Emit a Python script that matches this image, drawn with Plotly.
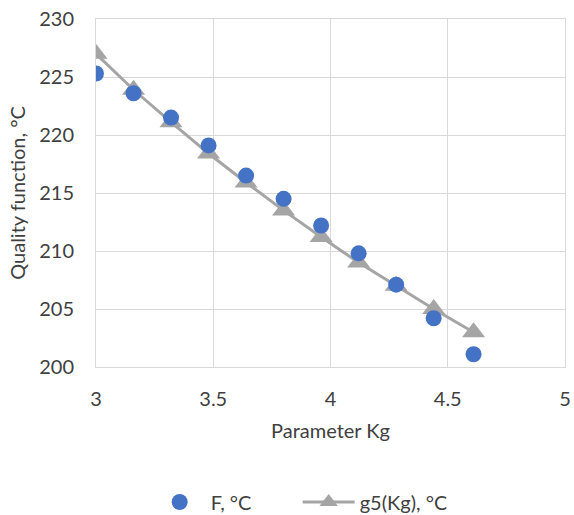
import plotly.graph_objects as go

kg = [3.0, 3.16, 3.32, 3.48, 3.64, 3.80, 3.96, 4.12, 4.28, 4.44, 4.61]
f_vals = [225.3, 223.6, 221.5, 219.1, 216.5, 214.5, 212.2, 209.8, 207.1, 204.2, 201.1]
g5_vals = [227.0, 223.9, 221.1, 218.4, 215.9, 213.5, 211.2, 209.0, 207.0, 205.0, 203.0]
x_ticks = [3, 3.5, 4, 4.5, 5]
x_tick_labels = ["3", "3.5", "4", "4.5", "5"]
y_ticks = [200, 205, 210, 215, 220, 225, 230]

FONT = "Lato, Liberation Sans, sans-serif"
FS = 20

fig = go.Figure()
fig.add_trace(go.Scatter(
    x=kg, y=g5_vals, mode="lines+markers", name="g5(Kg), °C",
    line=dict(color="#a5a5a5", width=3),
    marker=dict(symbol="triangle-up", size=20, color="#a5a5a5"),
))
fig.add_trace(go.Scatter(
    x=kg, y=f_vals, mode="markers", name="F, °C",
    marker=dict(symbol="circle", size=16, color="#4472c4"),
))

fig.update_layout(
    width=574, height=515,
    margin=dict(l=96, r=9, t=19, b=148, autoexpand=False),
    paper_bgcolor="white", plot_bgcolor="white",
    font=dict(family=FONT, size=FS, color="#404040"),
    showlegend=True,
    legend=dict(orientation="h", x=0.43, xanchor="center", y=-0.388, yanchor="middle",
                traceorder="reversed", font=dict(size=FS, color="#404040"),
                itemwidth=52, entrywidth=82),
    xaxis=dict(range=[3, 5], tickvals=x_ticks, ticktext=x_tick_labels,
               showgrid=True, gridcolor="#d9d9d9", gridwidth=1, automargin=False,
               zeroline=False, showline=True, linecolor="#d9d9d9", mirror=True,
               ticks="", ticklabelstandoff=14, ticklabeloverflow="allow",
               title=dict(text="Parameter Kg", standoff=14, font=dict(size=FS))),
    yaxis=dict(range=[200, 230], tickvals=y_ticks, automargin=False,
               showgrid=True, gridcolor="#d9d9d9", gridwidth=1,
               zeroline=False, showline=True, linecolor="#d9d9d9", mirror=True,
               ticks="", ticklabelstandoff=17, ticklabeloverflow="allow",
               title=dict(text="Quality function, °C", standoff=8, font=dict(size=FS))),
)

fig.write_html(
    "out.html",
    config={"displayModeBar": False},
    post_script="document.body.style.margin='0';document.body.style.overflow='hidden';",
)
